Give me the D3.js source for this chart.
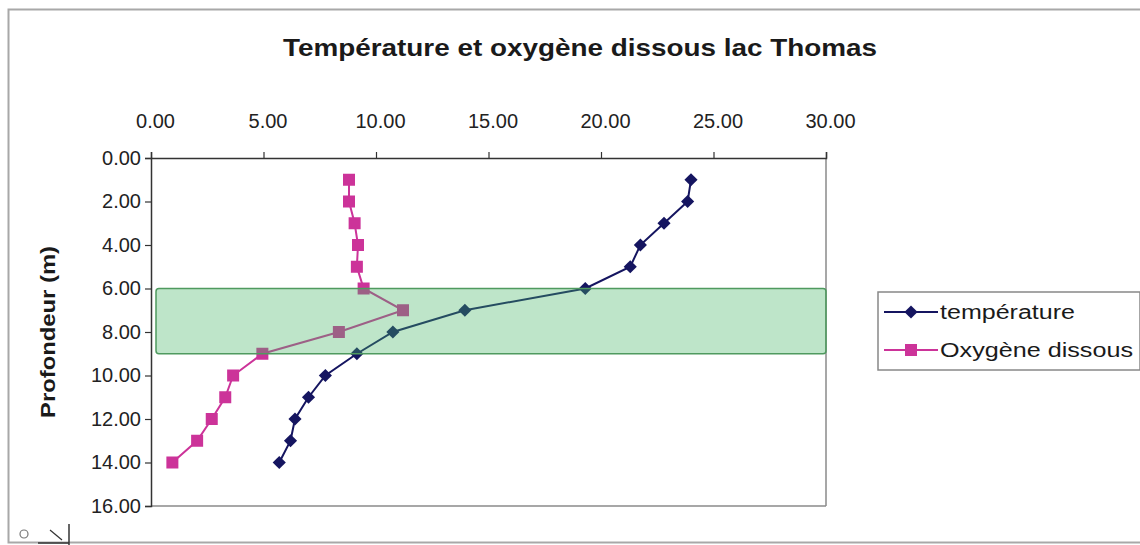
<!DOCTYPE html>
<html>
<head>
<meta charset="utf-8">
<script src="https://cdn.jsdelivr.net/npm/d3@7"></script>
<style>
  body { margin: 0; background: #fff; }
  svg { display: block; font-family: "Liberation Sans", Arial, sans-serif; }
</style>
</head>
<body>
<svg id="chart" width="1140" height="545"></svg>
<script>
const title = "Température et oxygène dissous lac Thomas";
const yAxisTitle = "Profondeur (m)";
const seriesNames = ["température", "Oxygène dissous"];
const depths = [1, 2, 3, 4, 5, 6, 7, 8, 9, 10, 11, 12, 13, 14];
const temperature = [24.0, 23.85, 22.8, 21.75, 21.3, 19.3, 13.95, 10.75, 9.15, 7.75, 7.0, 6.4, 6.2, 5.7];
const oxygen = [8.8, 8.8, 9.05, 9.2, 9.15, 9.45, 11.2, 8.35, 4.95, 3.65, 3.3, 2.7, 2.05, 0.95];
const xTicks = [0, 5, 10, 15, 20, 25, 30];
const yTicks = [0, 2, 4, 6, 8, 10, 12, 14, 16];
const bandRange = [6, 9];

const svg = d3.select("#chart");
const x = d3.scaleLinear().domain([0, 30]).range([151, 826]);
const y = d3.scaleLinear().domain([0, 16]).range([158, 506]);
const fmt = d3.format(".2f");

// outer chart border
svg.append("rect").attr("x", 8.5).attr("y", 9.5).attr("width", 1140).attr("height", 533)
  .attr("fill", "none").attr("stroke", "#a8a8a8").attr("stroke-width", 2);

// title
svg.append("text").attr("x", 580).attr("y", 56).attr("text-anchor", "middle")
  .attr("font-size", 24).attr("font-weight", "bold").attr("fill", "#1a1a1a")
  .attr("textLength", 594).attr("lengthAdjust", "spacingAndGlyphs")
  .text(title);

// plot-area right/bottom borders
svg.append("line").attr("x1", x(30)).attr("x2", x(30)).attr("y1", y(0)).attr("y2", y(16))
  .attr("stroke", "#8a8a8a").attr("stroke-width", 1.5);
svg.append("line").attr("x1", x(0)).attr("x2", x(30)).attr("y1", y(16)).attr("y2", y(16))
  .attr("stroke", "#8a8a8a").attr("stroke-width", 1.5);

// axes
const gx = svg.append("g").attr("transform", `translate(0,${y(0)})`)
  .call(d3.axisTop(x).tickValues(xTicks).tickFormat(fmt).tickSize(6).tickPadding(24));
const gy = svg.append("g").attr("transform", `translate(${x(0)},0)`)
  .call(d3.axisLeft(y).tickValues(yTicks).tickFormat(fmt).tickSize(6).tickPadding(4));
[gx, gy].forEach(g => {
  g.select(".domain").attr("stroke", "#333").attr("stroke-width", 1.5);
  g.selectAll(".tick line").attr("stroke", "#333").attr("stroke-width", 1.2);
  g.selectAll(".tick text").attr("font-size", 20).attr("fill", "#222")
    .attr("font-family", "Liberation Sans, Arial, sans-serif");
});
gx.selectAll(".tick text").attr("dx", 4);

// y axis title
svg.append("text").attr("transform", `translate(55,${(y(0) + y(16)) / 2}) rotate(-90)`)
  .attr("text-anchor", "middle").attr("font-size", 21).attr("font-weight", "bold")
  .attr("fill", "#1a1a1a").attr("textLength", 172).attr("lengthAdjust", "spacingAndGlyphs")
  .text(yAxisTitle);

// series
const navy = "#151560";
const pink = "#cc3399";
const line = vals => d3.line().x((d, i) => x(vals[i])).y((d, i) => y(depths[i]))(depths);

svg.append("path").attr("d", line(temperature)).attr("fill", "none")
  .attr("stroke", navy).attr("stroke-width", 2);
svg.append("path").attr("d", line(oxygen)).attr("fill", "none")
  .attr("stroke", pink).attr("stroke-width", 2);

const diamond = d3.symbol().type(d3.symbolDiamond2).size(110);
svg.append("g").selectAll("path").data(depths).join("path")
  .attr("d", diamond)
  .attr("transform", (d, i) => `translate(${x(temperature[i])},${y(d)})`)
  .attr("fill", navy);
svg.append("g").selectAll("rect").data(depths).join("rect")
  .attr("x", (d, i) => x(oxygen[i]) - 6).attr("y", d => y(d) - 6)
  .attr("width", 12).attr("height", 12).attr("fill", pink);

// thermocline band (semi-transparent overlay)
svg.append("rect").attr("x", x(0) + 5).attr("y", y(bandRange[0]))
  .attr("width", x(30) - x(0) - 5).attr("height", y(bandRange[1]) - y(bandRange[0]))
  .attr("rx", 3).attr("fill", "rgba(70,180,100,0.35)")
  .attr("stroke", "#4f9a5f").attr("stroke-width", 1.5);

// legend
const lg = svg.append("g");
lg.append("rect").attr("x", 878).attr("y", 292).attr("width", 262).attr("height", 78)
  .attr("fill", "#fff").attr("stroke", "#888").attr("stroke-width", 1.5);
const items = [
  { name: seriesNames[0], color: navy, shape: "diamond", yy: 312, w: 135 },
  { name: seriesNames[1], color: pink, shape: "square", yy: 350, w: 193 }
];
items.forEach(it => {
  lg.append("line").attr("x1", 884).attr("x2", 938).attr("y1", it.yy).attr("y2", it.yy)
    .attr("stroke", it.color).attr("stroke-width", 2);
  if (it.shape === "diamond") {
    lg.append("path").attr("d", diamond).attr("transform", `translate(911,${it.yy})`).attr("fill", it.color);
  } else {
    lg.append("rect").attr("x", 905).attr("y", it.yy - 6).attr("width", 12).attr("height", 12).attr("fill", it.color);
  }
  lg.append("text").attr("x", 940).attr("y", it.yy + 7).attr("font-size", 20).attr("fill", "#1a1a1a")
    .attr("textLength", it.w).attr("lengthAdjust", "spacingAndGlyphs").text(it.name);
});

// small sheet icon bottom-left
const ic = svg.append("g");
ic.append("line").attr("x1", 69).attr("x2", 69).attr("y1", 524).attr("y2", 545).attr("stroke", "#333").attr("stroke-width", 1.5);
ic.append("line").attr("x1", 38).attr("x2", 69).attr("y1", 543).attr("y2", 543).attr("stroke", "#333").attr("stroke-width", 1.5);
ic.append("line").attr("x1", 50).attr("x2", 62).attr("y1", 530).attr("y2", 540).attr("stroke", "#333").attr("stroke-width", 1.2);
ic.append("circle").attr("cx", 24).attr("cy", 534).attr("r", 4).attr("fill", "none").attr("stroke", "#777").attr("stroke-width", 1.2);
</script>
</body>
</html>
